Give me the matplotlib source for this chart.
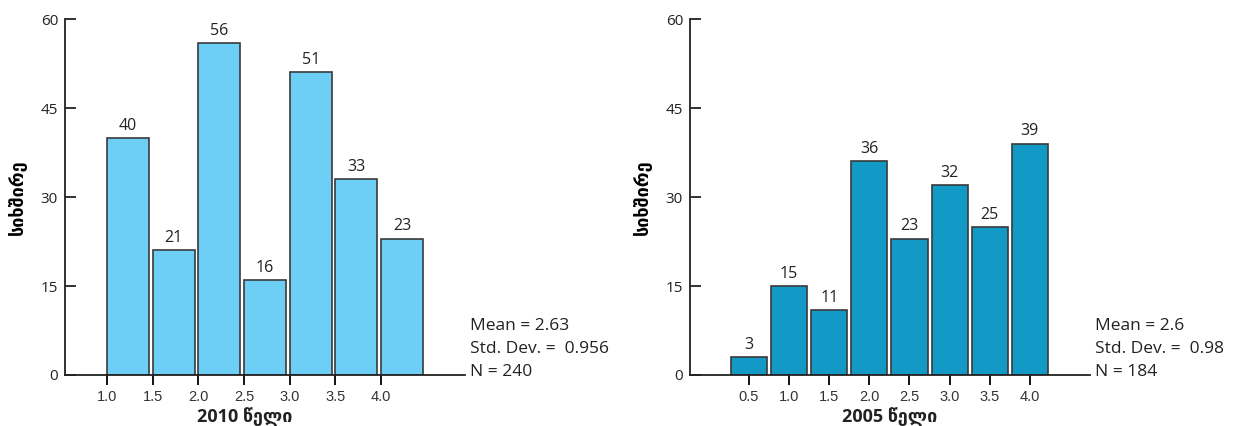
import matplotlib
matplotlib.use("Agg")
import matplotlib.pyplot as plt

# --- data ---
x_2010 = [1.0, 1.5, 2.0, 2.5, 3.0, 3.5, 4.0]
freq_2010 = [40, 21, 56, 16, 51, 33, 23]
x_2005 = [0.5, 1.0, 1.5, 2.0, 2.5, 3.0, 3.5, 4.0]
freq_2005 = [3, 15, 11, 36, 23, 32, 25, 39]
stats_2010 = ["Mean = 2.63", "Std. Dev. =  0.956", "N = 240"]
stats_2005 = ["Mean = 2.6", "Std. Dev. =  0.98", "N = 184"]
y_ticks = [0, 15, 30, 45, 60]

ylabel = "სიხშირე"
xlabel_2010 = "2010 წელი"
xlabel_2005 = "2005 წელი"

FAM = ["Open Sans", "DejaVu Sans"]
plt.rcParams["font.family"] = FAM

fig = plt.figure(figsize=(12.36, 4.26), dpi=100)
ax1 = fig.add_axes([65 / 1236, 1 - 375 / 426, 400 / 1236, 356 / 426])
ax2 = fig.add_axes([690 / 1236, 1 - 375 / 426, 400 / 1236, 356 / 426])


def style(ax, xlabel, xlim, xticks, stats, xlab_x):
    ax.set_ylim(0, 60)
    ax.set_xlim(*xlim)
    ax.set_yticks(y_ticks)
    ax.set_xticks(xticks)
    ax.set_xticklabels([f"{v:.1f}" for v in xticks], fontsize=10.5,
                       color="#333333", family="Liberation Sans")
    ax.tick_params(axis="y", direction="in", length=8, width=1.3,
                   labelsize=11, pad=5, colors="#222222")
    ax.tick_params(axis="x", direction="out", length=7, width=1.3, pad=4)
    for s in ["top", "right"]:
        ax.spines[s].set_visible(False)
    for s in ["left", "bottom"]:
        ax.spines[s].set_linewidth(1.3)
        ax.spines[s].set_color("#222222")
    ax.set_ylabel(ylabel, fontsize=13, fontweight="bold", labelpad=10,
                  family=FAM)
    ax.set_xlabel(xlabel, fontsize=13, fontweight="bold", labelpad=0,
                  family=FAM, color="#222222")
    ax.xaxis.set_label_coords(xlab_x, -0.09)
    for i, t in enumerate(stats):
        ax.text(1.012, 0.138 - i * 0.065, t, transform=ax.transAxes,
                fontsize=12.5, va="center", ha="left", color="#222222")


bars1 = ax1.bar(x_2010, freq_2010, width=0.46, align="edge",
                color="#6DCFF6", edgecolor="#3a3a3a", linewidth=1.2)
for b, v in zip(bars1, freq_2010):
    ax1.annotate(str(v), (b.get_x() + b.get_width() / 2, v),
                 xytext=(0, 3), textcoords="offset points",
                 ha="center", va="bottom", fontsize=11.5, color="#222222")
style(ax1, xlabel_2010, (0.54, 4.92), x_2010, stats_2010, 0.45)

bars2 = ax2.bar(x_2005, freq_2005, width=0.45, align="center",
                color="#1399C6", edgecolor="#3a3a3a", linewidth=1.2)
for b, v in zip(bars2, freq_2005):
    ax2.annotate(str(v), (b.get_x() + b.get_width() / 2, v),
                 xytext=(0, 3), textcoords="offset points",
                 ha="center", va="bottom", fontsize=11.5, color="#222222")
style(ax2, xlabel_2005, (-0.235, 4.75), x_2005, stats_2005, 0.5)

fig.savefig("out.png", dpi=100)
